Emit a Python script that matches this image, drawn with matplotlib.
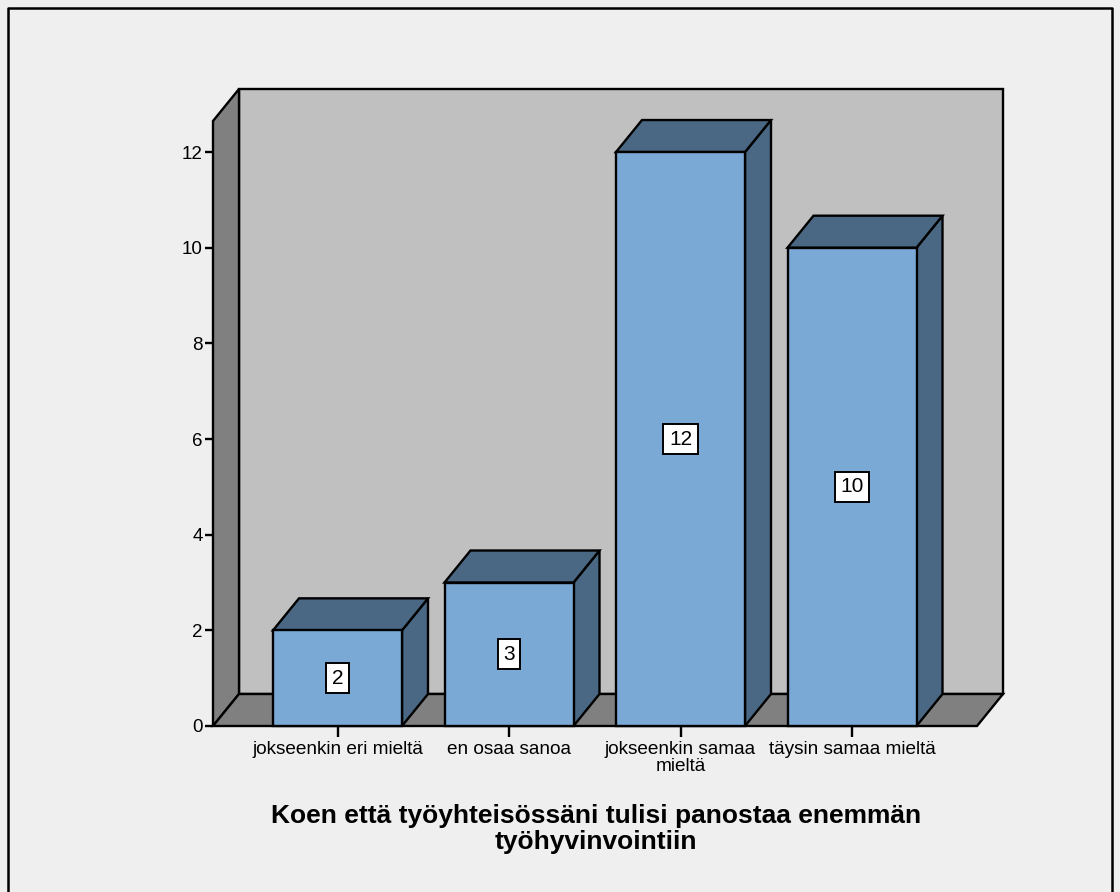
import numpy as np
import matplotlib.pyplot as plt
from matplotlib.patches import Polygon
from matplotlib.lines import Line2D

plt.rcParams['font.family'] = ['Liberation Sans', 'DejaVu Sans']

# answer counts per category
categories = ["jokseenkin eri mieltä", "en osaa sanoa",
              "jokseenkin samaa\nmieltä", "täysin samaa mieltä"]
counts = [2, 3, 12, 10]
yticks = [0, 2, 4, 6, 8, 10, 12]
title = "Koen että työyhteisössäni tulisi panostaa enemmän\ntyöhyvinvointiin"

bg = "#efefef"
front_col = "#7ba9d6"
dark_col = "#4a6884"
wall_col = "#c0c0c0"
side_col = "#808080"

W, H = 1120, 892
fig = plt.figure(figsize=(W / 100, H / 100), dpi=100, facecolor=bg)

# plot area in pixels: front plane from x=213 to 977, value 0 at y=726
px_unit_x = 171.5   # pixels per category step
px_unit_y = 47.83   # pixels per count
x0_px, x1_px = 213, 1003
y0_px, y1_px = 726, 90
ax = fig.add_axes([x0_px / W, (H - y0_px) / H, (x1_px - x0_px) / W, (y0_px - y1_px) / H])
ax.set_facecolor("none")
xmin = -124.5 / px_unit_x
ax.set_xlim(xmin, xmin + (x1_px - x0_px) / px_unit_x)
ax.set_ylim(0, (y0_px - y1_px) / px_unit_y)

dx = 26 / px_unit_x
dy = 32 / px_unit_y
xmax_front = xmin + (977 - 213) / px_unit_x
wall_top = (726 - 121) / px_unit_y
lw = 1.7

def poly(pts, fc, z):
    ax.add_patch(Polygon(pts, closed=True, facecolor=fc, edgecolor="black",
                         linewidth=lw, joinstyle="miter", zorder=z, clip_on=False))

# back wall, left wall, floor
poly([(xmin + dx, dy), (xmax_front + dx, dy), (xmax_front + dx, wall_top + dy),
      (xmin + dx, wall_top + dy)], wall_col, 1)
poly([(xmin, 0), (xmin, wall_top), (xmin + dx, wall_top + dy), (xmin + dx, dy)], side_col, 2)
poly([(xmin, 0), (xmax_front, 0), (xmax_front + dx, dy), (xmin + dx, dy)], side_col, 2)

# 3D bars
bw = 129 / px_unit_x
for i, v in enumerate(counts):
    l, r = i - bw / 2, i + bw / 2
    poly([(r, 0), (r + dx, dy), (r + dx, v + dy), (r, v)], dark_col, 3)
    poly([(l, v), (r, v), (r + dx, v + dy), (l + dx, v + dy)], dark_col, 3)
    poly([(l, 0), (r, 0), (r, v), (l, v)], front_col, 4)
    ax.text(i, v / 2, str(v), ha="center", va="center", fontsize=15, zorder=5,
            bbox=dict(boxstyle="square,pad=0.27", facecolor="white",
                      edgecolor="black", linewidth=1.4))

for s in ax.spines.values():
    s.set_visible(False)
ax.set_yticks(yticks)
ax.set_yticklabels([str(t) for t in yticks], fontsize=13.5)
ax.set_xticks(range(len(categories)))
ax.set_xticklabels(categories, fontsize=13.7, linespacing=0.98)
ax.tick_params(axis="y", length=6, width=1.7, pad=1.5)
ax.tick_params(axis="x", length=8, width=1.7, pad=3)

fig.text(596 / W, 1 - 829 / H, title, ha="center", va="center",
         fontsize=19, fontweight="bold", linespacing=1.07)

# outer frame
fig.add_artist(Line2D([8 / W, 8 / W, 1112 / W, 1112 / W], [0, 1 - 8 / H, 1 - 8 / H, 0],
                      transform=fig.transFigure, color="black", linewidth=1.8))

fig.savefig("out.png", dpi=100, facecolor=bg)
